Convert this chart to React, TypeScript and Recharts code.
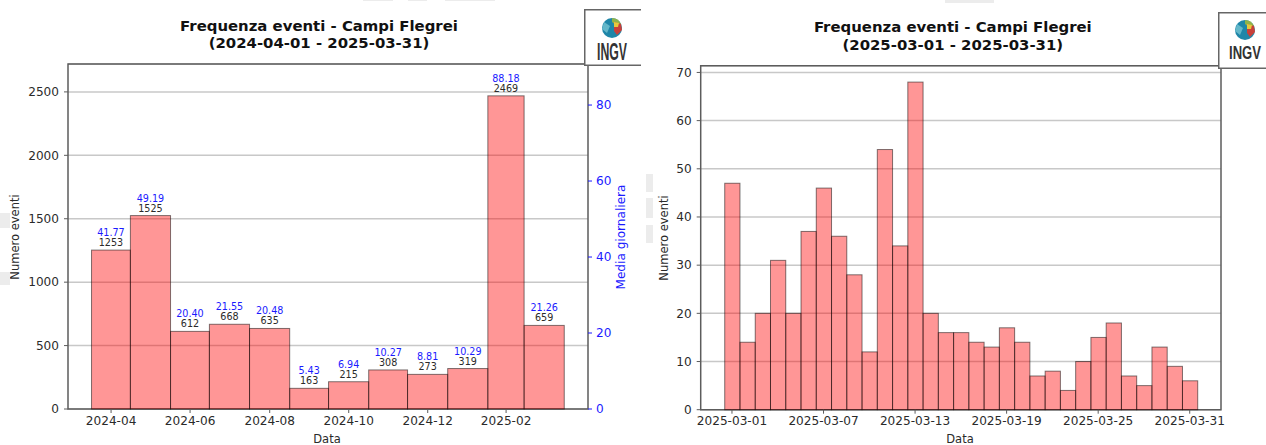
import { Bar, CartesianGrid, ComposedChart, LabelList, Line, ReferenceArea, XAxis, YAxis } from "recharts";

const FONT = "'DejaVu Sans', sans-serif";
const SPINE = "#5c5c5c";
const GRID = "#c8c8c8";
const TEXT = "#2a2a2a";
const BLUE = "#1a1aff";

// yearly panel
const months = ["2024-04", "2024-05", "2024-06", "2024-07", "2024-08", "2024-09", "2024-10", "2024-11", "2024-12", "2025-01", "2025-02", "2025-03"];
const monthDays = [30, 31, 30, 31, 31, 30, 31, 30, 31, 31, 28, 31];
const monthCounts = [1253, 1525, 612, 668, 635, 163, 215, 308, 273, 319, 2469, 659];
const monthAverages = [41.77, 49.19, 20.4, 21.55, 20.48, 5.43, 6.94, 10.27, 8.81, 10.29, 88.18, 21.26];
const countTicks = [0, 500, 1000, 1500, 2000, 2500];
const averageTicks = [0, 20, 40, 60, 80];
const labelledMonths = ["2024-04", "2024-06", "2024-08", "2024-10", "2024-12", "2025-02"];

// monthly panel
const dayNumbers = [1, 2, 3, 4, 5, 6, 7, 8, 9, 10, 11, 12, 13, 14, 15, 16, 17, 18, 19, 20, 21, 22, 23, 24, 25, 26, 27, 28, 29, 30, 31];
const dayCounts = [47, 14, 20, 31, 20, 37, 46, 36, 28, 12, 54, 34, 68, 20, 16, 16, 14, 13, 17, 14, 7, 8, 4, 10, 15, 18, 7, 5, 13, 9, 6];
const dailyTicks = [0, 10, 20, 30, 40, 50, 60, 70];
const labelledDays = [1, 7, 13, 19, 25, 31];

// bars sit at the middle of their month, so they touch despite the different month lengths
let elapsed = 0;
const monthData = months.map((month, i) => {
  const row = { month, mid: elapsed + monthDays[i] / 2, days: monthDays[i], count: monthCounts[i], average: monthAverages[i] };
  elapsed += monthDays[i];
  return row;
});
const dayData = dayNumbers.map((day, i) => ({ day, days: 1, count: dayCounts[i] }));

const LEFT_PLOT_WIDTH = 520;
const LEFT_X_DOMAIN: [number, number] = [-18.25, 383.25];
const RIGHT_PLOT_WIDTH = 520.3;
const RIGHT_X_DOMAIN: [number, number] = [-1.05, 33.05];

// faint leftovers of the scanned page
const smudges = [
  [0, 213, 10, 15],
  [0, 272, 10, 13],
  [646, 174, 7, 18],
  [646, 198, 7, 20],
  [646, 225, 7, 18],
  [363, 0, 30, 1],
  [408, 0, 19, 1],
  [445, 0, 50, 1],
  [945, 0, 49, 3],
];

function daysBar(pxPerDay: number) {
  return (props: any) => {
    const w = props.payload.days * pxPerDay;
    return (
      <rect
        x={props.x + props.width / 2 - w / 2}
        y={props.y}
        width={w}
        height={props.height}
        fill="#ff0000"
        fillOpacity={0.41}
        stroke="#000000"
        strokeOpacity={0.5}
        strokeWidth={1}
      />
    );
  };
}

function Logo({ left, top, width, height, cx, cy, textWidth, textSize, baseline }: any) {
  // Liberation Sans Bold "INGV" is 2.445em wide, squeeze it to the condensed logo width
  const squeeze = textWidth / (2.445 * textSize);
  return (
    <svg style={{ position: "absolute", left, top }} width={width} height={height}>
      <rect x={0.75} y={0.75} width={width + 10} height={height - 1.5} fill="#ffffff" stroke="#666666" strokeWidth={1.5} />
      <g transform={`translate(${cx} ${cy})`}>
        <circle r={10} fill="#1f86a8" />
        <path d="M0 -10 a10 10 0 0 1 9 6 l-5 1 -4 -3z" fill="#8fb24a" />
        <path d="M2 -6 l7 2 1 6 -5 5 -3 -4z" fill="#c9403a" />
        <path d="M2 -6 l5 1 -1 4 -4 0z" fill="#e6c83c" />
        <path d="M-8 -6 l6 4 -3 7 -5 -4z" fill="#63b7c9" />
      </g>
      <text
        transform={`translate(${cx} ${baseline}) scale(${squeeze} 1)`}
        textAnchor="middle"
        fontFamily="'Liberation Sans', sans-serif"
        fontWeight="700"
        fontSize={textSize}
        fill="#333333"
      >
        INGV
      </text>
    </svg>
  );
}

const axisTick = { fontSize: 12.1, fill: TEXT, fontFamily: FONT };
const averageTick = { fontSize: 12.1, fill: BLUE, fontFamily: FONT };

function ChartText({ x, y, children, rotate, color = TEXT, size = 11.5, bold = false }: any) {
  return (
    <text
      x={x}
      y={y}
      textAnchor="middle"
      dominantBaseline="central"
      fontFamily={FONT}
      fontSize={size}
      fontWeight={bold ? 700 : 400}
      fill={color}
      transform={rotate ? `rotate(-90 ${x} ${y})` : undefined}
    >
      {children}
    </text>
  );
}

export default function App() {
  return (
    <div style={{ position: "absolute", left: 0, top: 0, width: 1266, height: 445, overflow: "hidden", background: "#ffffff" }}>
      <div style={{ position: "absolute", left: 0, top: 0 }}>
        <ComposedChart width={640} height={445} data={monthData} margin={{ top: 64, right: 0, bottom: 0, left: 0 }}>
          <CartesianGrid yAxisId="count" vertical={false} stroke={GRID} strokeWidth={1.5} />
          <XAxis
            dataKey="mid"
            type="number"
            domain={LEFT_X_DOMAIN}
            ticks={monthData.filter((d) => labelledMonths.includes(d.month)).map((d) => d.mid)}
            tickFormatter={(v: number) => monthData.find((d) => d.mid === v)?.month ?? ""}
            interval={0}
            height={36}
            tickSize={4}
            tickMargin={3}
            axisLine={false}
            tickLine={{ stroke: SPINE }}
            tick={axisTick}
          />
          <YAxis
            yAxisId="count"
            width={68}
            domain={[0, 2720]}
            ticks={countTicks}
            interval={0}
            tickSize={4}
            tickMargin={5}
            axisLine={false}
            tickLine={{ stroke: SPINE }}
            tick={axisTick}
          />
          <YAxis
            yAxisId="average"
            orientation="right"
            width={52}
            domain={[0, 90.8]}
            ticks={averageTicks}
            interval={0}
            tickSize={4}
            tickMargin={4}
            axisLine={false}
            tickLine={{ stroke: BLUE }}
            tick={averageTick}
          />
          <Bar yAxisId="count" dataKey="count" barSize={10} isAnimationActive={false} shape={daysBar(LEFT_PLOT_WIDTH / (LEFT_X_DOMAIN[1] - LEFT_X_DOMAIN[0]))}>
            <LabelList dataKey="count" position="top" offset={4} fontSize={9.6} fill={TEXT} fontFamily={FONT} />
            <LabelList
              dataKey="average"
              position="top"
              offset={14}
              fontSize={9.6}
              fill={BLUE}
              fontFamily={FONT}
              formatter={(v: number) => v.toFixed(2)}
            />
          </Bar>
          {/* keeps the daily average axis alive, the values are printed on the bars */}
          <Line yAxisId="average" dataKey="average" stroke="none" dot={false} activeDot={false} isAnimationActive={false} />
          <ReferenceArea yAxisId="count" x1={LEFT_X_DOMAIN[0]} x2={LEFT_X_DOMAIN[1]} y1={0} y2={2720} fill="none" stroke={SPINE} strokeWidth={1.5} />
          <ChartText x={319} y={25.7} size={14.9} bold color="#111111">Frequenza eventi - Campi Flegrei</ChartText>
          <ChartText x={319} y={42.7} size={14.9} bold color="#111111">(2024-04-01 - 2025-03-31)</ChartText>
          <ChartText x={327} y={438.5}>Data</ChartText>
          <ChartText x={15} y={237} rotate>Numero eventi</ChartText>
          <ChartText x={621} y={237} rotate size={12.1} color={BLUE}>Media giornaliera</ChartText>
        </ComposedChart>
      </div>

      <div style={{ position: "absolute", left: 640, top: 0 }}>
        <ComposedChart width={626} height={445} data={dayData} margin={{ top: 65.7, right: 45, bottom: 0, left: 0 }}>
          <CartesianGrid vertical={false} stroke={GRID} strokeWidth={1.5} />
          <XAxis
            dataKey="day"
            type="number"
            domain={RIGHT_X_DOMAIN}
            ticks={labelledDays}
            tickFormatter={(v: number) => `2025-03-${String(v).padStart(2, "0")}`}
            interval={0}
            height={35.3}
            tickSize={4}
            tickMargin={3}
            axisLine={false}
            tickLine={{ stroke: SPINE }}
            tick={axisTick}
          />
          <YAxis
            width={60.7}
            domain={[0, 71.4]}
            ticks={dailyTicks}
            interval={0}
            tickSize={4}
            tickMargin={5}
            axisLine={false}
            tickLine={{ stroke: SPINE }}
            tick={axisTick}
          />
          <Bar dataKey="count" barSize={10} isAnimationActive={false} shape={daysBar(RIGHT_PLOT_WIDTH / (RIGHT_X_DOMAIN[1] - RIGHT_X_DOMAIN[0]))} />
          <ReferenceArea x1={RIGHT_X_DOMAIN[0]} x2={RIGHT_X_DOMAIN[1]} y1={0} y2={71.4} fill="none" stroke={SPINE} strokeWidth={1.5} />
          <ChartText x={312.8} y={27.3} size={14.9} bold color="#111111">Frequenza eventi - Campi Flegrei</ChartText>
          <ChartText x={312.8} y={44.7} size={14.9} bold color="#111111">(2025-03-01 - 2025-03-31)</ChartText>
          <ChartText x={320} y={438.5}>Data</ChartText>
          <ChartText x={24} y={238} rotate>Numero eventi</ChartText>
        </ComposedChart>
      </div>

      {smudges.map(([left, top, width, height], i) => (
        <div key={i} style={{ position: "absolute", left, top, width, height, background: "#ececec" }} />
      ))}

      <Logo left={584} top={9} width={57} height={57} cx={28} cy={19} textWidth={30} textSize={23} baseline={51} />
      <Logo left={1218} top={12} width={48} height={57} cx={27} cy={18} textWidth={32} textSize={18} baseline={47} />
    </div>
  );
}
